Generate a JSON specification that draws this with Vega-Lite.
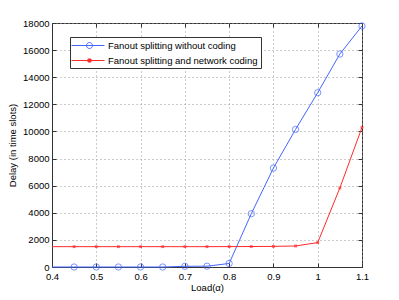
{
  "$schema": "https://vega.github.io/schema/vega-lite/v6.json",
  "width": 310,
  "height": 244,
  "autosize": "none",
  "padding": {"left": 52, "top": 23, "right": 37, "bottom": 33},
  "background": "white",
  "config": {
    "font": "Liberation Sans",
    "view": {"stroke": "#333", "strokeWidth": 1},
    "axis": {
      "labelFont": "Liberation Sans", "labelFontSize": 9.5, "labelColor": "#000",
      "titleFont": "Liberation Sans", "titleFontSize": 9.5, "titleFontWeight": "normal", "titleColor": "#000",
      "domainColor": "#333", "tickColor": "#333", "tickSize": -4,
      "gridColor": "#999", "gridDash": [1, 3], "gridWidth": 1
    }
  },
  "data": {
    "values": [
      {"load": 0.4, "delay": 0, "series": "Fanout splitting without coding"},
      {"load": 0.45, "delay": 0, "series": "Fanout splitting without coding"},
      {"load": 0.5, "delay": 0, "series": "Fanout splitting without coding"},
      {"load": 0.55, "delay": 0, "series": "Fanout splitting without coding"},
      {"load": 0.6, "delay": 0, "series": "Fanout splitting without coding"},
      {"load": 0.65, "delay": 0, "series": "Fanout splitting without coding"},
      {"load": 0.7, "delay": 50, "series": "Fanout splitting without coding"},
      {"load": 0.75, "delay": 60, "series": "Fanout splitting without coding"},
      {"load": 0.8, "delay": 260, "series": "Fanout splitting without coding"},
      {"load": 0.85, "delay": 3930, "series": "Fanout splitting without coding"},
      {"load": 0.9, "delay": 7300, "series": "Fanout splitting without coding"},
      {"load": 0.95, "delay": 10150, "series": "Fanout splitting without coding"},
      {"load": 1.0, "delay": 12860, "series": "Fanout splitting without coding"},
      {"load": 1.05, "delay": 15710, "series": "Fanout splitting without coding"},
      {"load": 1.1, "delay": 17780, "series": "Fanout splitting without coding"},
      {"load": 0.4, "delay": 1500, "series": "Fanout splitting and network coding"},
      {"load": 0.45, "delay": 1500, "series": "Fanout splitting and network coding"},
      {"load": 0.5, "delay": 1500, "series": "Fanout splitting and network coding"},
      {"load": 0.55, "delay": 1500, "series": "Fanout splitting and network coding"},
      {"load": 0.6, "delay": 1500, "series": "Fanout splitting and network coding"},
      {"load": 0.65, "delay": 1500, "series": "Fanout splitting and network coding"},
      {"load": 0.7, "delay": 1500, "series": "Fanout splitting and network coding"},
      {"load": 0.75, "delay": 1500, "series": "Fanout splitting and network coding"},
      {"load": 0.8, "delay": 1505, "series": "Fanout splitting and network coding"},
      {"load": 0.85, "delay": 1510, "series": "Fanout splitting and network coding"},
      {"load": 0.9, "delay": 1520, "series": "Fanout splitting and network coding"},
      {"load": 0.95, "delay": 1550, "series": "Fanout splitting and network coding"},
      {"load": 1.0, "delay": 1800, "series": "Fanout splitting and network coding"},
      {"load": 1.05, "delay": 5830, "series": "Fanout splitting and network coding"},
      {"load": 1.1, "delay": 10300, "series": "Fanout splitting and network coding"}
    ]
  },
  "layer": [
    {
      "mark": {"type": "line", "strokeWidth": 1},
      "encoding": {
        "x": {
          "field": "load", "type": "quantitative",
          "scale": {"domain": [0.4, 1.1], "nice": false, "zero": false},
          "axis": {
            "orient": "bottom",
            "values": [0.4, 0.5, 0.6, 0.7, 0.8, 0.9, 1, 1.1],
            "format": "~g", "labelPadding": 8, "labelFlush": false,
            "title": "Load(α)", "titleX": 155, "titleY": 15, "titleBaseline": "top"
          }
        },
        "y": {
          "field": "delay", "type": "quantitative",
          "scale": {"domain": [0, 18000], "nice": false},
          "axis": {
            "orient": "left",
            "values": [0, 2000, 4000, 6000, 8000, 10000, 12000, 14000, 16000, 18000],
            "format": "d", "labelPadding": 7, "labelFlush": false,
            "title": "Delay (in time slots)", "titleX": -35, "titleY": 122
          }
        },
        "color": {
          "field": "series", "type": "nominal",
          "scale": {
            "domain": ["Fanout splitting without coding", "Fanout splitting and network coding"],
            "range": ["#4466ff", "#ff2a2a"]
          },
          "legend": {
            "title": null, "orient": "none", "legendX": 18, "legendY": 14,
            "fillColor": "white", "strokeColor": "#333", "padding": 3,
            "rowPadding": 4, "symbolSize": 100, "symbolStrokeWidth": 1,
            "labelOffset": 24, "labelFont": "Liberation Sans", "labelFontSize": 9.5,
            "labelColor": "#000", "labelLimit": 300,
            "encode": {
              "symbols": {
                "update": {
                  "shape": {"signal": "datum.value === 'Fanout splitting without coding' ? 'M-1.4,0H5.2M2.8,0A0.6,0.6,0,1,1,1.6,0A0.6,0.6,0,1,1,2.8,0' : 'M-1.4,0H5.2M1.9,-0.3H2.5V0.3H1.9Z'"},
                  "fill": {"signal": "datum.value === 'Fanout splitting without coding' ? 'transparent' : '#ff2a2a'"}
                }
              }
            }
          }
        }
      }
    },
    {
      "transform": [{"filter": "datum.series === 'Fanout splitting without coding' && datum.load > 0.42"}],
      "mark": {"type": "point", "shape": "circle", "filled": false, "color": "#4466ff", "size": 40, "strokeWidth": 1},
      "encoding": {
        "x": {"field": "load", "type": "quantitative", "axis": null},
        "y": {"field": "delay", "type": "quantitative", "axis": null}
      }
    },
    {
      "transform": [{"filter": "datum.series === 'Fanout splitting and network coding' && datum.load > 0.42"}],
      "mark": {"type": "square", "filled": true, "color": "#ff2a2a", "size": 8},
      "encoding": {
        "x": {"field": "load", "type": "quantitative", "axis": null},
        "y": {"field": "delay", "type": "quantitative", "axis": null}
      }
    },
    {
      "mark": {"type": "point", "opacity": 0},
      "encoding": {
        "x": {
          "field": "load", "type": "quantitative",
          "axis": {"orient": "top", "values": [0.4, 0.5, 0.6, 0.7, 0.8, 0.9, 1, 1.1], "labels": false, "grid": false, "title": null, "domain": false}
        },
        "y": {
          "field": "delay", "type": "quantitative",
          "axis": {"orient": "right", "values": [0, 2000, 4000, 6000, 8000, 10000, 12000, 14000, 16000, 18000], "labels": false, "grid": false, "title": null, "domain": false}
        }
      }
    }
  ],
  "resolve": {"axis": {"x": "independent", "y": "independent"}}
}
